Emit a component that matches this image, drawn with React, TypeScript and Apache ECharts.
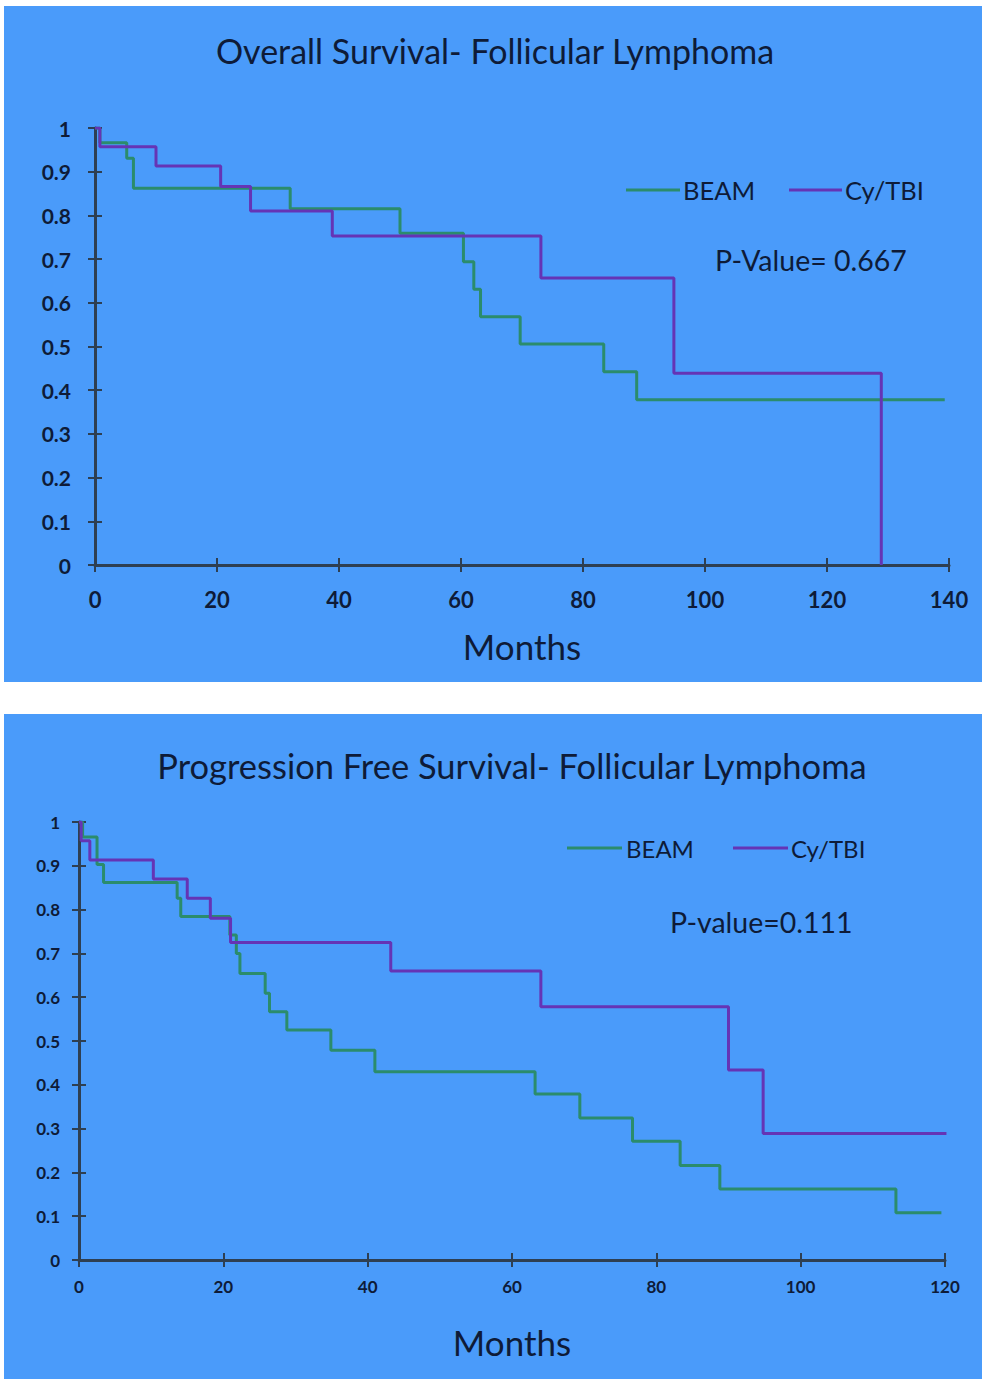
import React, { useEffect, useRef } from "react";
import * as echarts from "echarts";

// ---- Overall Survival (top) ----
const osBeamMonths = [0, 0.8, 5.2, 6.3, 32, 50, 60.4, 62.1, 63.2, 69.7, 83.4, 88.8, 139.3];
const osBeamSurv = [1, 0.966, 0.931, 0.862, 0.815, 0.759, 0.694, 0.631, 0.568, 0.506, 0.442, 0.378, 0.378];
const osCyMonths = [0, 0.8, 10, 20.6, 25.5, 38.9, 73.1, 94.9, 128.9];
const osCySurv = [1, 0.957, 0.913, 0.866, 0.81, 0.753, 0.657, 0.439, 0];

// ---- Progression Free Survival (bottom) ----
const pfsBeamMonths = [0, 0.5, 2.5, 3.4, 13.6, 14.1, 20.9, 21.8, 22.3, 25.8, 26.4, 28.8, 34.9, 41.0, 63.2, 69.4, 76.7, 83.3, 88.8, 113.2, 119.5];
const pfsBeamSurv = [1, 0.966, 0.903, 0.862, 0.826, 0.784, 0.742, 0.7, 0.654, 0.609, 0.567, 0.525, 0.479, 0.43, 0.379, 0.324, 0.271, 0.216, 0.162, 0.108, 0.108];
const pfsCyMonths = [0, 0.3, 1.5, 10.3, 15.0, 18.2, 21.0, 43.2, 64.0, 90.0, 94.8, 120.2];
const pfsCySurv = [1, 0.957, 0.913, 0.87, 0.826, 0.78, 0.725, 0.66, 0.578, 0.434, 0.289, 0.289];

const seriesNames = ["BEAM", "Cy/TBI"];
const titles = ["Overall Survival- Follicular Lymphoma", "Progression Free Survival- Follicular Lymphoma"];
const pValues = ["P-Value= 0.667", "P-value=0.111"];
const xAxisName = "Months";

const GREEN = "#2B8C6C";
const PURPLE = "#6534B5";
const TEXT = "#0E1B38";
const AXIS = "#2E3F52";
const BLUE = "#4A9BFA";
const FONT = "Lato, 'Open Sans', sans-serif";

const zip = (xs: number[], ys: number[]) => xs.map((x, i) => [x, ys[i]]);

export default function App() {
  const ref = useRef<HTMLDivElement>(null);
  useEffect(() => {
    document.body.style.margin = "0";
    if (!ref.current) return;
    const chart = echarts.init(ref.current, undefined, { renderer: "svg" });

    const yLabelFmt = (v: number) => String(Math.round(v * 10) / 10);

    const makeX = (gridIndex: number, max: number, fontSize: number, margin: number, nameGap: number) => [
      {
        type: "value", gridIndex, min: 0, max, interval: 20,
        axisLine: { show: true, lineStyle: { color: AXIS, width: 3 } },
        axisTick: { show: true, length: 7, lineStyle: { color: AXIS, width: 2 } },
        axisLabel: { color: TEXT, fontWeight: "bold", fontSize, fontFamily: FONT, margin },
        splitLine: { show: false },
        name: xAxisName, nameLocation: "middle", nameGap,
        nameTextStyle: { color: TEXT, fontSize: 35, fontFamily: FONT },
      },
      {
        type: "value", gridIndex, min: 0, max, interval: 20, position: "bottom",
        axisLine: { show: false },
        axisTick: { show: true, inside: true, length: 7, lineStyle: { color: AXIS, width: 2 } },
        axisLabel: { show: false }, splitLine: { show: false },
      },
    ];
    const makeY = (gridIndex: number, fontSize: number, margin: number) => [
      {
        type: "value", gridIndex, min: 0, max: 1, interval: 0.1,
        axisLine: { show: true, lineStyle: { color: AXIS, width: 3 } },
        axisTick: { show: true, length: 7, lineStyle: { color: AXIS, width: 2 } },
        axisLabel: { color: TEXT, fontWeight: "bold", fontSize, fontFamily: FONT, margin, formatter: yLabelFmt },
        splitLine: { show: false },
      },
      {
        type: "value", gridIndex, min: 0, max: 1, interval: 0.1, position: "left",
        axisLine: { show: false },
        axisTick: { show: true, inside: true, length: 7, lineStyle: { color: AXIS, width: 2 } },
        axisLabel: { show: false }, splitLine: { show: false },
      },
    ];

    const line = (name: string, data: number[][], color: string, axisIdx: number) => ({
      type: "line", name, step: "end", data, xAxisIndex: axisIdx, yAxisIndex: axisIdx,
      showSymbol: false, symbol: "none",
      lineStyle: { color, width: 3 }, itemStyle: { color }, z: 3,
    });

    const txt = (text: string, x: number, y: number, fontSize: number, align = "left", weight = "normal") => ({
      type: "text", x, y,
      style: { text, fill: TEXT, fontSize, fontFamily: FONT, fontWeight: weight, textAlign: align, textVerticalAlign: "middle" },
    });
    const seg = (x1: number, x2: number, y: number, color: string) => ({
      type: "line", shape: { x1, y1: y, x2, y2: y }, style: { stroke: color, lineWidth: 3 },
    });

    chart.setOption({
      animation: false,
      backgroundColor: "transparent",
      grid: [
        { left: 95, width: 854, top: 128, height: 437 },
        { left: 79, width: 866, top: 822, height: 438 },
      ],
      xAxis: [...makeX(0, 140, 22, 23, 63), ...makeX(1, 120, 17, 18, 64)],
      yAxis: [...makeY(0, 21, 24), ...makeY(1, 17, 19)],
      series: [
        line(seriesNames[0], zip(osBeamMonths, osBeamSurv), GREEN, 0),
        line(seriesNames[1], zip(osCyMonths, osCySurv), PURPLE, 0),
        line(seriesNames[0], zip(pfsBeamMonths, pfsBeamSurv), GREEN, 2),
        line(seriesNames[1], zip(pfsCyMonths, pfsCySurv), PURPLE, 2),
      ],
      graphic: [
        txt(titles[0], 495, 50, 34, "center"),
        seg(626, 680, 190, GREEN),
        txt(seriesNames[0], 683, 190, 25.5),
        seg(789, 842, 190, PURPLE),
        txt(seriesNames[1], 845, 190, 25.5),
        txt(pValues[0], 715, 260, 28.5),
        txt(titles[1], 512, 765, 34.5, "center"),
        seg(567, 622, 848, GREEN),
        txt(seriesNames[0], 626, 848, 24),
        seg(733, 788, 848, PURPLE),
        txt(seriesNames[1], 791, 848, 24),
        txt(pValues[1], 670, 922, 28.5),
      ],
    });
    return () => chart.dispose();
  }, []);

  return (
    <div style={{ position: "relative", width: 982, height: 1379, background: "#ffffff", overflow: "hidden" }}>
      <div style={{ position: "absolute", left: 4, top: 6, width: 978, height: 676, background: BLUE }} />
      <div style={{ position: "absolute", left: 4, top: 714, width: 978, height: 665, background: BLUE }} />
      <div ref={ref} style={{ position: "absolute", left: 0, top: 0, width: 982, height: 1379 }} />
    </div>
  );
}
